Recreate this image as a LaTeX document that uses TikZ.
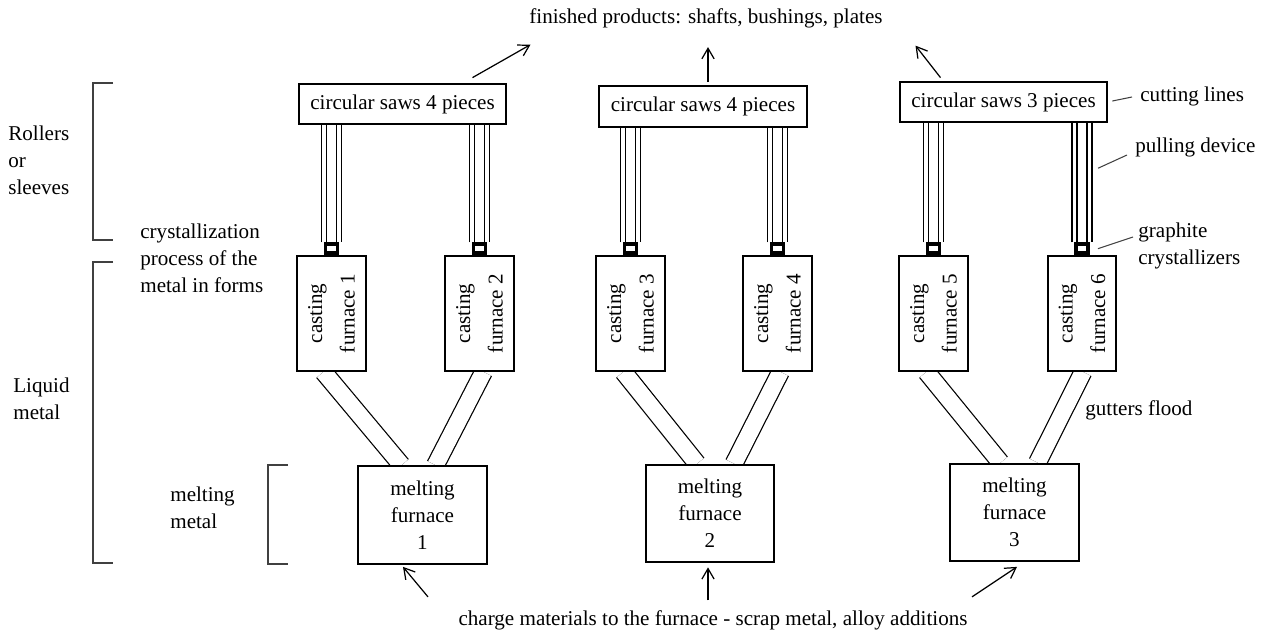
\documentclass[tikz,border=0pt]{standalone}
\usepackage{fontspec}
\setmainfont{Liberation Serif}
\usepackage{tikz}
\usetikzlibrary{arrows.meta,calc,backgrounds}

\tikzset{
  sawbox/.style={draw, line width=1.3pt, fill=white, minimum width=4.15cm, minimum height=0.81cm, inner sep=0pt},
  castbox/.style={draw, line width=1.3pt, fill=white, minimum width=1.37cm, minimum height=2.29cm, inner sep=0pt},
  meltbox/.style={draw, line width=1.3pt, fill=white, minimum width=2.57cm, minimum height=1.95cm, align=center, inner sep=0pt},
  crystal/.style={draw, line width=2.2pt, fill=white, minimum width=0.24cm, minimum height=0.18cm, inner sep=0pt, anchor=south},
  rodout/.style={double, double distance=0.37cm, line width=0.9pt},
  rodin/.style={double, double distance=0.175cm, line width=0.7pt},
  gutter/.style={double, double distance=0.33cm, line width=0.7pt},
  arr/.style={line width=0.7pt, -{Straight Barb[length=6pt,width=7pt]}},
  lead/.style={line width=0.6pt, black!75},
  brack/.style={line width=0.8pt, black!75},
  txt/.style={align=left, anchor=west, inner sep=0pt}
}

\begin{document}
\begin{tikzpicture}[x=0.02cm, y=-0.02cm, every node/.style={font=\fontsize{12}{15.4}\selectfont}]
    \useasboundingbox (0,0) rectangle (1265,635);

    % saws on top
    \node[sawbox] (saw1) at (402.5,104) {circular saws 4 pieces};
    \node[sawbox] (saw2) at (703,106.5) {circular saws 4 pieces};
    \node[sawbox] (saw3) at (1003.5,102) {circular saws 3 pieces};

    % casting furnaces with crystallizers
    \foreach \n/\x in {1/331.5, 2/479.5, 3/630.5, 4/777.5, 5/933.5, 6/1082} {
      \node[castbox, label={[rotate=90, align=center, inner sep=0pt]center:casting\\[3pt]furnace \n}] (cf\n) at (\x,313.5) {};
      \node[crystal] (cr\n) at (cf\n.north) {};
    }

    % melting furnaces
    \node[meltbox] (mf1) at (422.5,515) {melting\\furnace\\1};
    \node[meltbox] (mf2) at (710,513.5) {melting\\furnace\\2};
    \node[meltbox] (mf3) at (1014.5,512.5) {melting\\furnace\\3};

    \begin{scope}[on background layer]
      \foreach \n/\s in {1/saw1, 2/saw1, 3/saw2, 4/saw2, 5/saw3, 6/saw3} {
        \draw[rodout] (cr\n.north) -- (cr\n.north |- \s.south);
        \draw[rodin] (cr\n.north) -- (cr\n.north |- \s.south);
      }
      \foreach \c/\m/\a/\b in {cf1/mf1/-8/-21, cf2/mf1/4/13, cf3/mf2/-7/-13, cf4/mf2/3/24, cf5/mf3/-7/-14, cf6/mf3/1/23}
        \draw[gutter] ($(\c.south)+(\a,0)$) -- ($(\m.north)+(\b,0)$);
    \end{scope}

    % products and charge
    \node (ttl) at (706,18) {finished products: shafts, bushings, plates};
    \node (chg) at (713,620) {charge materials to the furnace - scrap metal, alloy additions};
    \draw[arr] ($(saw1.north)+(70,-5)$) -- ++(58,-33);
    \draw[arr] ($(saw2.north)+(5,-3)$) -- ++(0,-35);
    \draw[arr] ($(saw3.north)+(-63,-3)$) -- ++(-25,-32);
    \draw[arr] ($(mf1.south)+(5.5,32)$) -- ++(-25,-30);
    \draw[arr] ($(mf2.south)+(-2,37)$) -- ++(0,-33);
    \draw[arr] ($(mf3.south)+(-42.5,34.5)$) -- ++(45,-30);

    % left side
    \node[txt] (roll) at (8,160) {Rollers\\or\\sleeves};
    \node[txt] (cryst) at (140,258) {crystallization\\process of the\\metal in forms};
    \node[txt] (liq) at (13,399) {Liquid\\metal};
    \node[txt] (melt) at (170,508) {melting\\metal};
    \draw[brack] (113,83) -- (93,83) -- (93,240) -- (113,240);
    \draw[brack] (113,262) -- (93,262) -- (93,563) -- (113,563);
    \draw[brack] (288,465) -- (268,465) -- (268,564) -- (288,564);

    % right side
    \node[txt] (lcut) at (1140,96) {cutting lines};
    \node[txt] (lpull) at (1135,147) {pulling device};
    \node[txt] (lgraph) at (1138,246) {graphite\\crystallizers};
    \node[txt] (lgut) at (1085,410) {gutters flood};
    \draw[lead] ($(lcut.west)+(-8,1)$) -- ($(saw3.east)+(4,-1)$);
    \draw[lead] ($(lpull.west)+(-8,8)$) -- ($(cr6.north)+(16,-74)$);
    \draw[lead] ($(lgraph.west)+(-5,-9)$) -- ($(cr6.east)+(8,0)$);
\end{tikzpicture}
\end{document}
